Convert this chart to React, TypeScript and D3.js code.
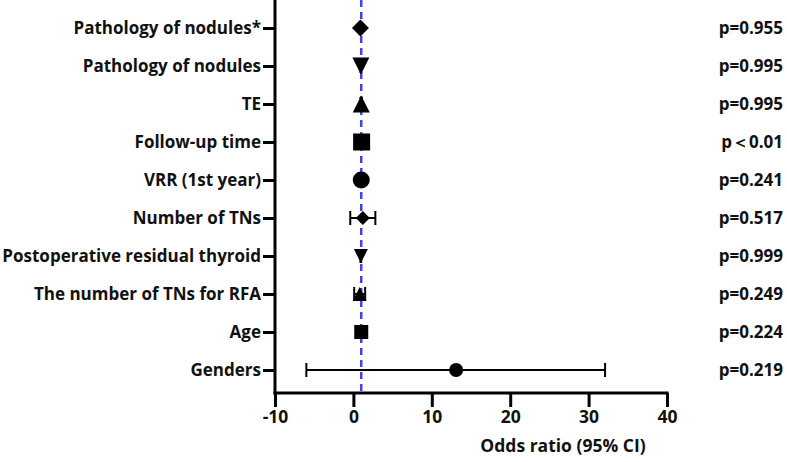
import { useEffect, useRef } from 'react'
import * as d3 from 'd3'

type Shape = 'circle' | 'square' | 'triUp' | 'triDown' | 'diamond'

const labels = [
  'Pathology of nodules*',
  'Pathology of nodules',
  'TE',
  'Follow-up time',
  'VRR (1st year)',
  'Number of TNs',
  'Postoperative residual thyroid',
  'The number of TNs for RFA ',
  'Age',
  'Genders',
]
const oddsRatio = [0.9, 0.95, 1.0, 1.05, 1.0, 1.2, 0.95, 0.8, 1.0, 13.1]
const ciLow = [0.8, 0.9, 0.9, 0.95, 0.9, -0.4, 0.9, 0.1, 0.9, -6.0]
const ciHigh = [1.0, 1.0, 1.1, 1.15, 1.1, 2.8, 1.0, 1.5, 1.1, 32.1]
const shapes: Shape[] = ['diamond', 'triDown', 'triUp', 'square', 'circle', 'diamond', 'triDown', 'triUp', 'square', 'circle']
const pValues = ['p=0.955', 'p=0.995', 'p=0.995', 'p＜0.01', 'p=0.241', 'p=0.517', 'p=0.999', 'p=0.249', 'p=0.224', 'p=0.219']
const xTicks = [-10, 0, 10, 20, 30, 40]
const refLine = 1

const W = 787
const H = 462
const FONT = '"Open Sans", sans-serif'

function markerPath(shape: Shape, s: number): string {
  const p = d3.path()
  if (shape === 'circle') {
    p.arc(0, 0, s / 2, 0, Math.PI * 2)
  } else if (shape === 'square') {
    p.rect(-s / 2, -s / 2, s, s)
  } else if (shape === 'triUp') {
    p.moveTo(0, -s / 2); p.lineTo(s / 2, s / 2); p.lineTo(-s / 2, s / 2); p.closePath()
  } else if (shape === 'triDown') {
    p.moveTo(-s / 2, -s / 2); p.lineTo(s / 2, -s / 2); p.lineTo(0, s / 2); p.closePath()
  } else {
    p.moveTo(0, -s / 2); p.lineTo(s / 2, 0); p.lineTo(0, s / 2); p.lineTo(-s / 2, 0); p.closePath()
  }
  return p.toString()
}

export default function App() {
  const ref = useRef<SVGSVGElement>(null)

  useEffect(() => {
    if (!ref.current) return
    const svg = d3.select(ref.current)
    svg.selectAll('*').remove()

    const x = d3.scaleLinear().domain([-10, 40]).range([275, 667])
    const y = d3.scalePoint<string>().domain(labels).range([28, 370])
    const axisY = 393

    // upper block of rows uses the larger symbols
    const rows = labels.map((label, i) => ({
      label, or: oddsRatio[i], lo: ciLow[i], hi: ciHigh[i], shape: shapes[i], p: pValues[i],
      size: i < 5 ? 17 : 14,
    }))

    // reference line at OR = 1
    svg.append('line')
      .attr('x1', x(refLine)).attr('x2', x(refLine))
      .attr('y1', 0).attr('y2', axisY)
      .attr('stroke', '#3f3fff').attr('stroke-width', 2.5)
      .attr('stroke-dasharray', '7,5')

    // y axis
    const yAxis = svg.append('g')
      .attr('transform', `translate(${x(-10)},0)`)
      .call(d3.axisLeft(y).tickSize(12).tickPadding(2))
    yAxis.select('.domain').remove()
    yAxis.append('line')
      .attr('x1', 0).attr('x2', 0).attr('y1', 0).attr('y2', axisY + 1.5)
      .attr('stroke', '#000').attr('stroke-width', 3)
    yAxis.selectAll('.tick line').attr('stroke', '#000').attr('stroke-width', 3)
    yAxis.selectAll('.tick text')
      .attr('font-family', FONT).attr('font-size', 17).attr('font-weight', 700)
      .attr('fill', '#111')

    // x axis
    const xAxis = svg.append('g')
      .attr('transform', `translate(0,${axisY})`)
      .call(d3.axisBottom(x).tickValues(xTicks).tickSize(14).tickPadding(4).tickFormat(d => String(d)))
    xAxis.select('.domain').remove()
    xAxis.append('line')
      .attr('x1', x(-10) - 1.5).attr('x2', x(40) + 1.5).attr('y1', 0).attr('y2', 0)
      .attr('stroke', '#000').attr('stroke-width', 3)
    xAxis.selectAll('.tick line').attr('stroke', '#000').attr('stroke-width', 3)
    xAxis.selectAll('.tick text')
      .attr('font-family', FONT).attr('font-size', 17.5).attr('font-weight', 700)
      .attr('fill', '#111')

    svg.append('text')
      .attr('x', 563).attr('y', 452)
      .attr('text-anchor', 'middle')
      .attr('font-family', FONT).attr('font-size', 17.5).attr('font-weight', 700)
      .attr('fill', '#111')
      .text('Odds ratio (95% CI)')

    // confidence intervals
    const ci = svg.append('g').attr('stroke', '#000').attr('stroke-width', 2)
    rows.forEach(r => {
      const yy = y(r.label)!
      ci.append('line').attr('x1', x(r.lo)).attr('x2', x(r.hi)).attr('y1', yy).attr('y2', yy)
      ci.append('line').attr('x1', x(r.lo)).attr('x2', x(r.lo)).attr('y1', yy - 7).attr('y2', yy + 7)
      ci.append('line').attr('x1', x(r.hi)).attr('x2', x(r.hi)).attr('y1', yy - 7).attr('y2', yy + 7)
    })

    // point estimates
    svg.append('g').selectAll('path')
      .data(rows)
      .enter().append('path')
      .attr('transform', d => `translate(${x(d.or)},${y(d.label)})`)
      .attr('d', d => markerPath(d.shape, d.size))
      .attr('fill', '#000')

    // p values
    svg.append('g').selectAll('text')
      .data(rows)
      .enter().append('text')
      .attr('x', 783).attr('y', d => y(d.label)!)
      .attr('dy', '0.35em')
      .attr('text-anchor', 'end')
      .attr('font-family', FONT).attr('font-size', 17).attr('font-weight', 700)
      .attr('fill', '#111')
      .text(d => d.p)
  }, [])

  return (
    <svg ref={ref} width={W} height={H}
      style={{ display: 'block', position: 'absolute', left: 0, top: 0, background: '#fff' }} />
  )
}
